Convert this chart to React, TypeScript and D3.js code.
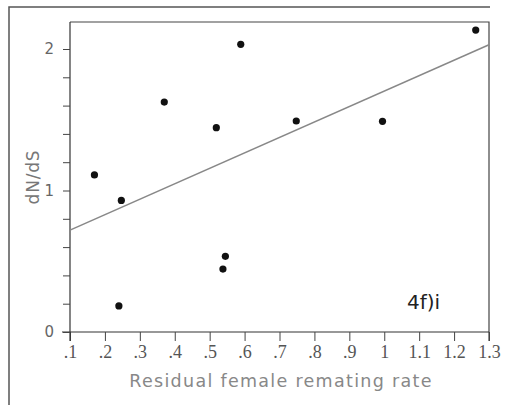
import React, { useEffect, useRef } from "react";
import * as d3 from "d3";

// scatter points
const remating = [0.17, 0.247, 0.24, 0.37, 0.519, 0.589, 0.545, 0.538, 0.748, 0.995, 1.262];
const dnds = [1.11, 0.93, 0.184, 1.625, 1.444, 2.033, 0.535, 0.445, 1.491, 1.489, 2.134];

// fitted line end points
const fitX = [0.1, 1.3];
const fitY = [0.72, 2.03];

const xTicks = [0.1, 0.2, 0.3, 0.4, 0.5, 0.6, 0.7, 0.8, 0.9, 1, 1.1, 1.2, 1.3];
const xTickLabels = [".1", ".2", ".3", ".4", ".5", ".6", ".7", ".8", ".9", "1", "1.1", "1.2", "1.3"];
const yMinorTicks = [0, 0.2, 0.4, 0.6, 0.8, 1, 1.2, 1.4, 1.6, 1.8, 2];
const yTickLabels = [0, 1, 2];

const W = 507,
  H = 405;

export default function App() {
  const ref = useRef<SVGSVGElement>(null);

  useEffect(() => {
    const svg = d3.select(ref.current);
    svg.selectAll("*").remove();

    const left = 70,
      right = 489,
      top = 22,
      bottom = 332;

    const x = d3.scaleLinear().domain([0.1, 1.3]).range([left, right]);
    const y = d3.scaleLinear().domain([0, 2]).range([bottom, 49]);

    svg.append("rect").attr("width", W).attr("height", H).attr("fill", "#fff");

    // outer scan frame
    svg
      .append("path")
      .attr("d", `M9,${H} L9,7 L490,7`)
      .attr("fill", "none")
      .attr("stroke", "#555")
      .attr("stroke-width", 1.5);

    // plot frame (top and right)
    svg
      .append("path")
      .attr("d", `M${left},${top} L${right},${top} L${right},${bottom + 9}`)
      .attr("fill", "none")
      .attr("stroke", "#444")
      .attr("stroke-width", 1.2);

    // x axis
    const xAxis = svg
      .append("g")
      .attr("transform", `translate(0,${bottom})`)
      .call(
        d3
          .axisBottom(x)
          .tickValues(xTicks)
          .tickSize(9)
          .tickPadding(4)
          .tickFormat((d, i) => xTickLabels[i])
      );
    xAxis.select(".domain").attr("stroke", "#333").attr("stroke-width", 1.2).attr("d", `M${left - 8},0H${right}`);
    xAxis.selectAll(".tick line").attr("stroke", "#444");
    xAxis
      .selectAll(".tick text")
      .attr("font-family", "Liberation Serif")
      .attr("font-size", 18)
      .attr("fill", "#555");

    // y axis
    const yAxis = svg
      .append("g")
      .attr("transform", `translate(${left},0)`)
      .call(d3.axisLeft(y).tickValues(yMinorTicks).tickSize(7).tickFormat(() => ""));
    yAxis.select(".domain").attr("stroke", "#333").attr("stroke-width", 1.2).attr("d", `M0,${bottom + 9}V${top}`);
    yAxis.selectAll(".tick line").attr("stroke", "#444");

    svg
      .append("g")
      .selectAll("text")
      .data(yTickLabels)
      .enter()
      .append("text")
      .attr("x", left - 16)
      .attr("y", (d) => y(d))
      .attr("dy", "0.35em")
      .attr("text-anchor", "end")
      .attr("font-family", "DejaVu Sans")
      .attr("font-size", 15)
      .attr("fill", "#666")
      .text((d) => d);

    // fitted line
    svg
      .append("line")
      .attr("x1", x(fitX[0]))
      .attr("y1", y(fitY[0]))
      .attr("x2", x(fitX[1]))
      .attr("y2", y(fitY[1]))
      .attr("stroke", "#888")
      .attr("stroke-width", 1.5);

    // points
    svg
      .append("g")
      .selectAll("circle")
      .data(remating)
      .enter()
      .append("circle")
      .attr("cx", (d) => x(d))
      .attr("cy", (d, i) => y(dnds[i]))
      .attr("r", 3.6)
      .attr("fill", "#111");

    // axis titles
    svg
      .append("text")
      .attr("x", 281)
      .attr("y", 387)
      .attr("text-anchor", "middle")
      .attr("font-family", "DejaVu Sans")
      .attr("font-size", 17.5)
      .attr("letter-spacing", 1.3)
      .attr("fill", "#888")
      .text("Residual female remating rate");

    svg
      .append("text")
      .attr("transform", `translate(39,177) rotate(-90)`)
      .attr("text-anchor", "middle")
      .attr("font-family", "DejaVu Sans")
      .attr("font-size", 17)
      .attr("letter-spacing", 0.8)
      .attr("fill", "#777")
      .text("dN/dS");

    svg
      .append("text")
      .attr("x", 407)
      .attr("y", 309)
      .attr("font-family", "DejaVu Sans")
      .attr("font-size", 20)
      .attr("fill", "#222")
      .text("4f)i");
  }, []);

  return (
    <svg
      ref={ref}
      width={W}
      height={H}
      style={{ position: "absolute", left: 0, top: 0 }}
    />
  );
}
